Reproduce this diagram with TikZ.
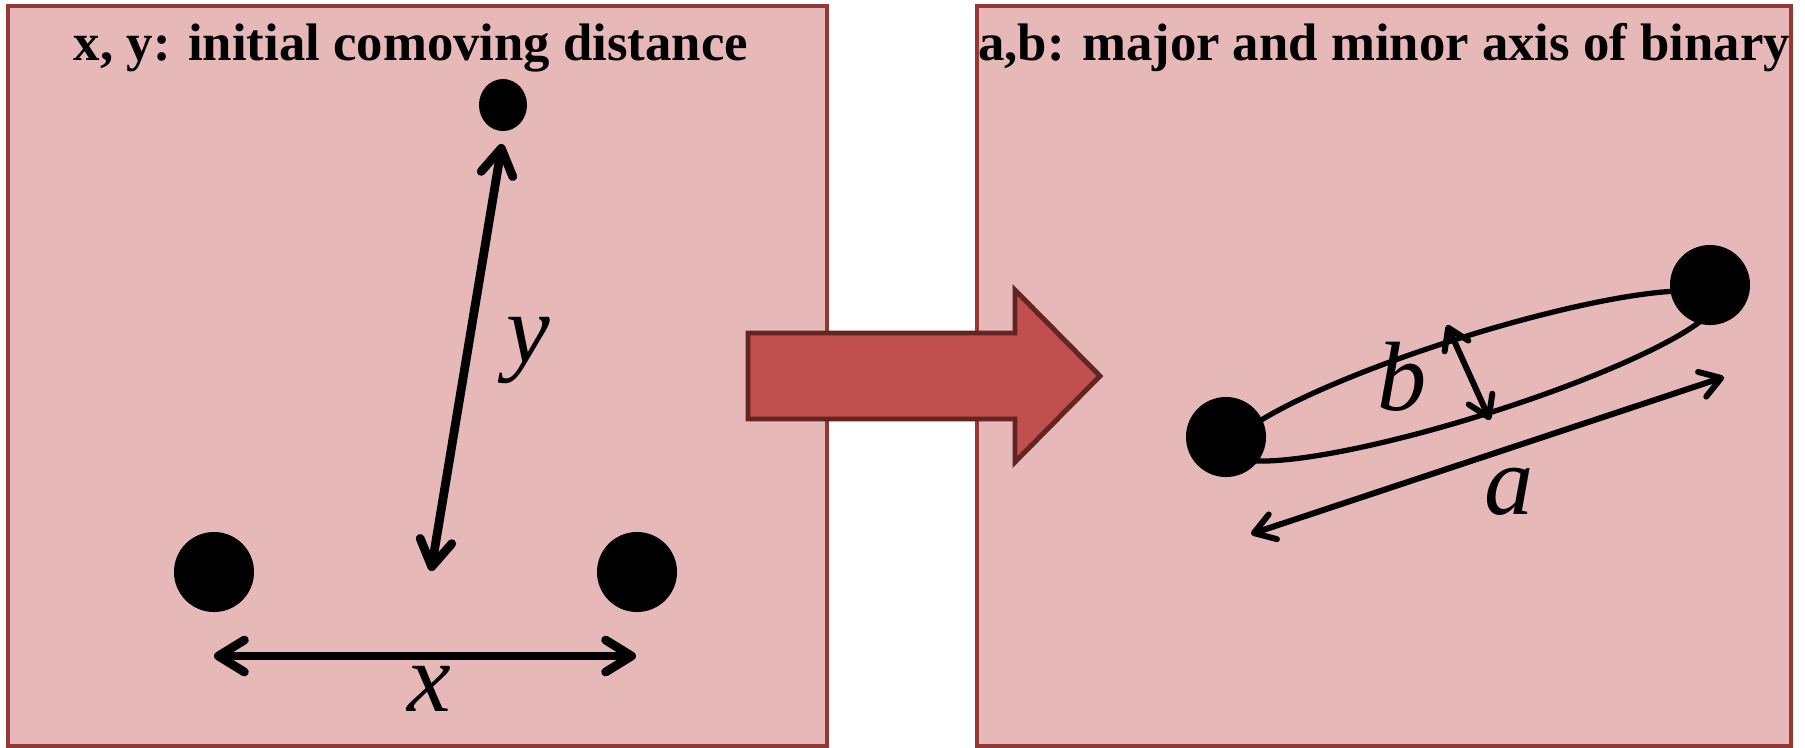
\documentclass[tikz,border=0pt]{standalone}
\usepackage{fontspec}
\setmainfont{Liberation Serif}
\usetikzlibrary{arrows.meta,shapes.geometric}
\definecolor{panelfill}{HTML}{E6B9B8}
\definecolor{paneledge}{HTML}{953735}
\definecolor{arrowfill}{HTML}{C0504D}
\definecolor{arrowedge}{HTML}{632523}

\begin{document}
\begin{tikzpicture}[x=0.01cm,y=-0.01cm,
  panel/.style={draw=paneledge,fill=panelfill,line width=1.3pt},
  title/.style={anchor=base,inner sep=0pt,font=\bfseries\fontsize{15}{18}\selectfont},
  var/.style={inner sep=0pt,font=\itshape\fontsize{28}{32}\selectfont},
  bigdot/.style={circle,fill=black,inner sep=0pt,minimum size=0.8cm},
  smalldot/.style={ellipse,fill=black,inner sep=0pt,minimum width=0.48cm,minimum height=0.52cm},
  sepline/.style={line width=2.5pt,{Straight Barb[length=2.6mm,width=3.2mm,round]}-{Straight Barb[length=2.6mm,width=3.2mm,round]}},
  axisline/.style={line width=1.7pt,{Straight Barb[length=2mm,width=2.6mm,round]}-{Straight Barb[length=2mm,width=2.6mm,round]}},
  orbit/.style={line width=1.5pt}]

 \useasboundingbox (0,0) rectangle (1805,747);

 % the two boxes
 \draw[panel] (8,6) rectangle (827,746);
 \draw[panel] (977,6) rectangle (1791,746);

 \draw (411,60) node[title] (lefttitle) {x, y: initial comoving distance};
 \draw (1384,60) node[title] (righttitle) {a,b: major and minor axis of binary};

 % initial positions
 \draw (503,105) node[smalldot] (top) {};
 \draw (214,572) node[bigdot] (left) {};
 \draw (637,572) node[bigdot] (right) {};

 \coordinate (ytop) at (502,144);
 \coordinate (ybot) at (431,571);
 \coordinate (xleft) at (214,656);
 \coordinate (xright) at (636,656);

 \draw[sepline] (ytop) -- (ybot);
 \draw[sepline] (xleft) -- (xright);
 \draw (528,351) node[var] (ylab) {y};
 \draw (429,689) node[var] (xlab) {x};

 % big arrow
 \draw[draw=arrowedge,fill=arrowfill,line width=1.4pt]
   (748,333) -- (1015,333) -- (1015,290) -- (1100,376) -- (1015,462) -- (1015,419) -- (748,419) -- cycle;

 % binary
 \coordinate (ctr) at (1473,376);
 \draw[orbit,rotate around={17.4:(ctr)}] (ctr) ellipse [x radius=2.54cm,y radius=0.4cm];
 \draw (1226,437) node[bigdot] (star1) {};
 \draw (1710,285) node[bigdot] (star2) {};

 \coordinate (btop) at (1447,325);
 \coordinate (bbot) at (1490,420);
 \coordinate (aleft) at (1251,534);
 \coordinate (aright) at (1724,377);

 \draw[axisline] (btop) -- (bbot);
 \draw[axisline] (aleft) -- (aright);
 \draw (1402,377) node[var] (blab) {b};
 \draw (1509,492) node[var] (alab) {a};

\end{tikzpicture}
\end{document}
